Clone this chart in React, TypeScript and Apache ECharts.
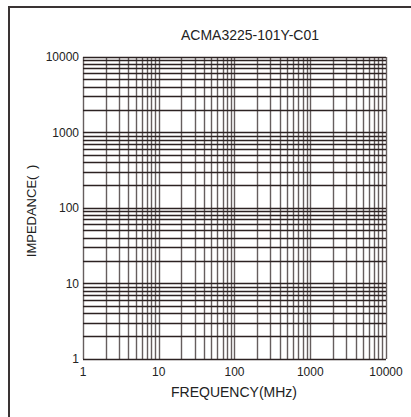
import React, { useEffect, useRef } from "react";
import * as echarts from "echarts";

const titleText = "ACMA3225-101Y-C01";
const xName = "FREQUENCY(MHz)";
const yName = "IMPEDANCE(\u2002)";
const decadesX = [1, 10, 100, 1000];
const decadesY = [1, 10, 100, 1000];
const mantissas = [1, 2, 3, 4, 5, 6, 7, 8, 9];
const xMax = 10000;
const yMax = 10000;

const gridVals = (decades: number[], top: number) => {
  const out: number[] = [];
  decades.forEach((d) => mantissas.forEach((m) => out.push(m * d)));
  out.push(top);
  return out;
};

export default function App() {
  const ref = useRef<HTMLDivElement>(null);
  useEffect(() => {
    if (!ref.current) return;
    const chart = echarts.init(ref.current, null, { renderer: "svg" });
    const font = "'Liberation Sans', Arial, Helvetica, sans-serif";
    const xs = gridVals(decadesX, xMax);
    const ys = gridVals(decadesY, yMax);
    const fmt = (v: number) => String(Math.round(v));
    chart.setOption({
      animation: false,
      backgroundColor: "#ffffff",
      grid: { left: 83, right: 25, top: 57, bottom: 58 },
      xAxis: {
        type: "log",
        logBase: 10,
        min: 1,
        max: xMax,
        interval: 1,
        axisLine: { show: false },
        axisTick: { show: false },
        splitLine: { show: false },
        axisLabel: { fontSize: 12, color: "#222", margin: 7, fontFamily: font, formatter: fmt },
      },
      yAxis: {
        type: "log",
        logBase: 10,
        min: 1,
        max: yMax,
        interval: 1,
        axisLine: { show: false },
        axisTick: { show: false },
        splitLine: { show: false },
        axisLabel: { fontSize: 12, color: "#222", margin: 4, fontFamily: font, formatter: fmt },
      },
      series: [
        {
          type: "line",
          data: [[1, 1]],
          symbol: "none",
          lineStyle: { opacity: 0 },
          silent: true,
          markLine: {
            silent: true,
            symbol: "none",
            label: { show: false },
            lineStyle: { color: "#665e5e", width: 1.4, type: "solid" },
            data: xs.map((v) => ({ xAxis: v })),
          },
        },
        {
          type: "line",
          data: [[1, 1]],
          symbol: "none",
          lineStyle: { opacity: 0 },
          silent: true,
          markLine: {
            silent: true,
            symbol: "none",
            label: { show: false },
            lineStyle: { color: "#2c2222", width: 1.3, type: "solid" },
            data: ys.map((v) => ({ yAxis: v })),
          },
        },
      ],
      graphic: [
        {
          type: "rect",
          shape: { x: 9, y: 7, width: 700, height: 700 },
          style: { fill: "none", stroke: "#3a3434", lineWidth: 2 },
          silent: true,
        },
        {
          type: "text",
          x: 250,
          y: 35,
          style: {
            text: titleText,
            fontSize: 14,
            fontFamily: font,
            fill: "#222",
            textAlign: "center",
            textVerticalAlign: "middle",
          },
        },
        {
          type: "text",
          x: 234,
          y: 392,
          style: {
            text: xName,
            fontSize: 14,
            fontFamily: font,
            fill: "#222",
            textAlign: "center",
            textVerticalAlign: "middle",
          },
        },
        {
          type: "text",
          x: 31,
          y: 211,
          rotation: Math.PI / 2,
          style: {
            text: yName,
            fontSize: 13,
            fontFamily: font,
            fill: "#222",
            textAlign: "center",
            textVerticalAlign: "middle",
          },
        },
      ],
    });
    return () => chart.dispose();
  }, []);
  return (
    <div
      ref={ref}
      style={{ position: "fixed", left: 0, top: 0, width: 411, height: 417 }}
    />
  );
}
